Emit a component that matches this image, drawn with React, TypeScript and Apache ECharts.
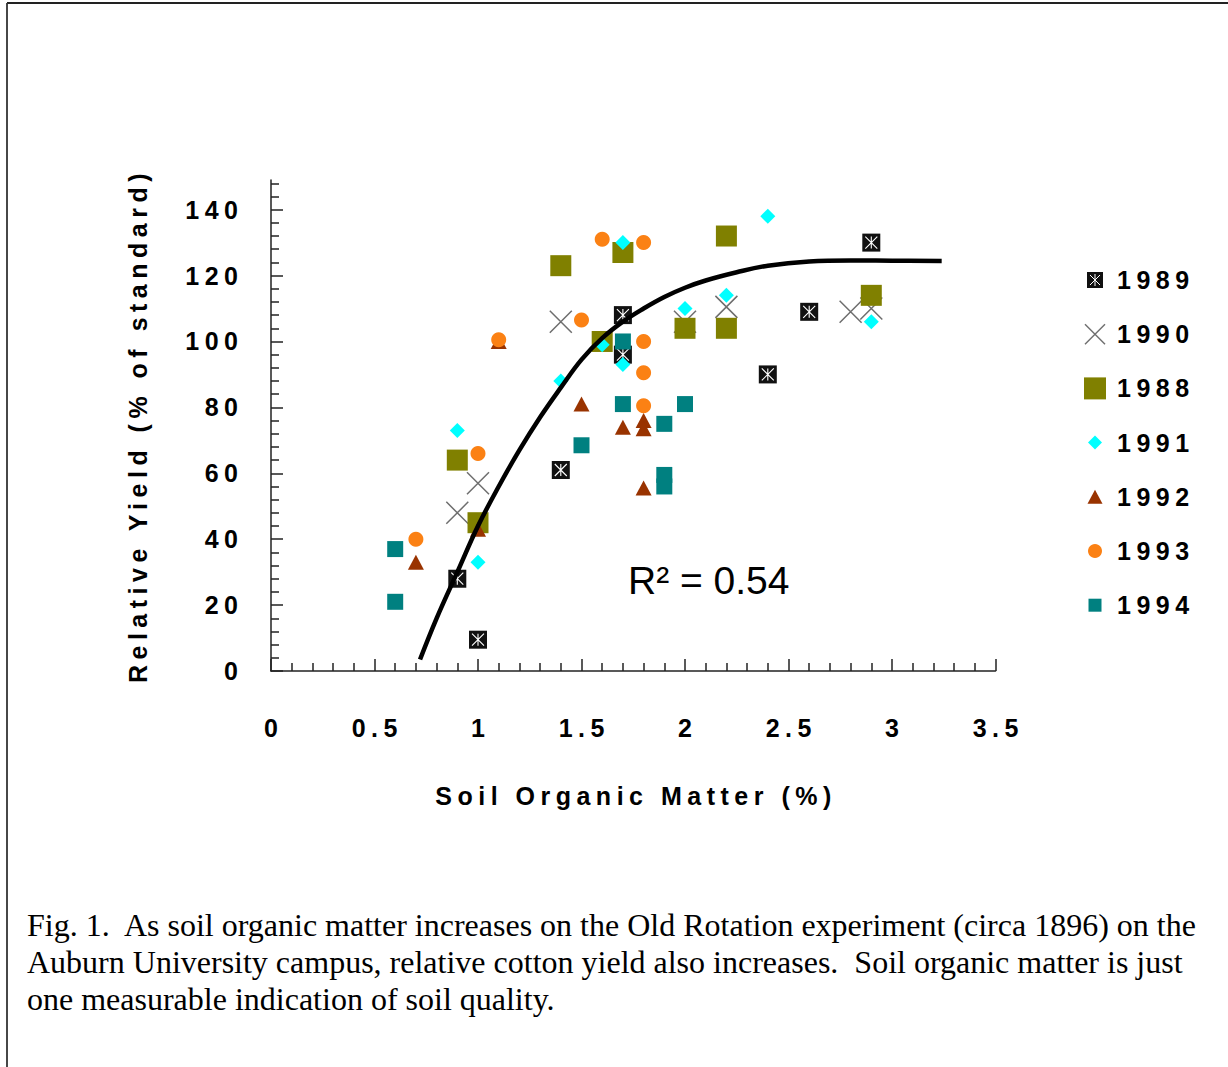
import React, { useEffect, useRef } from 'react';
import * as echarts from 'echarts';

// ---------- data ----------
const xMajorTicks = [0, 0.5, 1, 1.5, 2, 2.5, 3, 3.5];
const yMajorTicks = [0, 20, 40, 60, 80, 100, 120, 140];
const yMinorTicks = [4, 8, 12, 16, 24, 28, 32, 36, 44, 48, 52, 56, 64, 68, 72, 76, 84, 88, 92, 96,
  104, 108, 112, 116, 124, 128, 132, 136, 144, 148];

const legendNames = ['1989', '1990', '1988', '1991', '1992', '1993', '1994'];

const x1989 = [0.9, 1.0, 1.4, 1.7, 1.7, 2.4, 2.6, 2.9];
const y1989 = [28, 9.5, 61, 108, 96, 90, 109, 130];

const x1990 = [0.9, 1.0, 1.4, 2.0, 2.2, 2.8, 2.9];
const y1990 = [48, 57, 106, 106, 110.5, 109, 110];

const x1988 = [0.9, 1.0, 1.4, 1.6, 1.7, 2.0, 2.2, 2.2, 2.9];
const y1988 = [64, 45, 123, 100, 127, 104, 132, 104, 114];

const x1991 = [0.9, 1.0, 1.4, 1.6, 1.7, 1.7, 2.0, 2.2, 2.4, 2.9];
const y1991 = [73, 33, 88, 99, 130, 93, 110, 114, 138, 106];

const x1992 = [0.7, 1.0, 1.1, 1.5, 1.7, 1.8, 1.8, 1.8];
const y1992 = [33, 43, 100, 81, 74, 76, 73.5, 55.5];

const x1993 = [0.7, 1.0, 1.1, 1.5, 1.6, 1.8, 1.8, 1.8, 1.8];
const y1993 = [40, 66, 100.5, 106.5, 131, 130, 100, 90.5, 80.5];

const x1994 = [0.6, 0.6, 1.5, 1.7, 1.7, 1.9, 1.9, 1.9, 2.0];
const y1994 = [37, 21, 68.5, 81, 100, 75, 59.5, 56, 81];

// trend curve
const curveX = [0.72, 0.8, 0.9, 1.0, 1.1, 1.2, 1.3, 1.4, 1.5, 1.6, 1.7, 1.8, 1.9, 2.0, 2.1, 2.25, 2.4, 2.6, 2.8, 3.0, 3.24];
const curveY = [3.5, 16, 30, 44, 56, 67, 77, 86, 94.5, 101, 106, 110, 113.5, 116.3, 118.5, 121, 123, 124.3, 124.6, 124.5, 124.4];

const r2Label = 'R² = 0.54';
const xTitle = 'Soil Organic Matter (%)';
const yTitle = 'Relative Yield (% of standard)';
const captionLines = [
  'Fig. 1.  As soil organic matter increases on the Old Rotation experiment (circa 1896) on the',
  'Auburn University campus, relative cotton yield also increases.  Soil organic matter is just',
  'one measurable indication of soil quality.',
];

// ---------- styles ----------
const SANS = 'Liberation Sans, Arial, sans-serif';
const BOLD = { fontFamily: SANS, fontWeight: 'bold' as const, fontSize: 25, color: '#000' };
const LETTER_SPACING = '5.5';
const C1989 = '#111111';
const C1990 = '#6e6e6e';
const C1988 = '#808000';
const C1991 = '#00ffff';
const C1992 = '#993300';
const C1993 = '#fb8114';
const C1994 = '#008080';
const XPATH = 'path://M0 0L10 10M10 0L0 10';
const STARPATH = 'path://M0 0L10 10M10 0L0 10M5 0L5 10';

const pts = (xs: number[], ys: number[]) => xs.map((x, i) => [x, ys[i]]);

function legendIcon(name: string, cx: number, cy: number): any {
  switch (name) {
    case '1989':
      return {
        type: 'group', children: [
          { type: 'rect', shape: { x: cx - 8, y: cy - 8, width: 16, height: 16 }, style: { fill: C1989 } },
          { type: 'line', shape: { x1: cx - 5, y1: cy - 5, x2: cx + 5, y2: cy + 5 }, style: { stroke: '#fff', lineWidth: 1 } },
          { type: 'line', shape: { x1: cx + 5, y1: cy - 5, x2: cx - 5, y2: cy + 5 }, style: { stroke: '#fff', lineWidth: 1 } },
          { type: 'line', shape: { x1: cx, y1: cy - 6, x2: cx, y2: cy + 6 }, style: { stroke: '#fff', lineWidth: 1 } },
        ],
      };
    case '1990':
      return {
        type: 'group', children: [
          { type: 'line', shape: { x1: cx - 10, y1: cy - 10, x2: cx + 10, y2: cy + 10 }, style: { stroke: C1990, lineWidth: 1.5 } },
          { type: 'line', shape: { x1: cx + 10, y1: cy - 10, x2: cx - 10, y2: cy + 10 }, style: { stroke: C1990, lineWidth: 1.5 } },
        ],
      };
    case '1988':
      return { type: 'rect', shape: { x: cx - 11, y: cy - 11, width: 22, height: 22 }, style: { fill: C1988 } };
    case '1991':
      return { type: 'polygon', shape: { points: [[cx, cy - 7], [cx + 7, cy], [cx, cy + 7], [cx - 7, cy]] }, style: { fill: C1991 } };
    case '1992':
      return { type: 'polygon', shape: { points: [[cx, cy - 7], [cx + 7.5, cy + 7], [cx - 7.5, cy + 7]] }, style: { fill: C1992 } };
    case '1993':
      return { type: 'circle', shape: { cx, cy, r: 7 }, style: { fill: C1993 } };
    default:
      return { type: 'rect', shape: { x: cx - 6.5, y: cy - 6.5, width: 13, height: 13 }, style: { fill: C1994 } };
  }
}

function buildOption(): any {
  const legendGraphics: any[] = [];
  legendNames.forEach((n, i) => {
    const cy = 280 + i * 54.2;
    legendGraphics.push(legendIcon(n, 1095, cy));
    legendGraphics.push({
      type: 'text', x: 1117, y: cy,
      style: {
        text: n, fill: '#000', fontFamily: SANS, fontWeight: 'bold', fontSize: 25,
        align: 'left', verticalAlign: 'middle', textAlign: 'left', textVerticalAlign: 'middle',
      },
    });
  });

  const captionGraphics = captionLines.map((t, i) => ({
    type: 'text', x: 27, y: 925 + i * 37,
    style: {
      text: t, fill: '#000', fontFamily: 'Liberation Serif, Times New Roman, serif', fontSize: 32,
      align: 'left', verticalAlign: 'middle', textAlign: 'left', textVerticalAlign: 'middle',
    },
  }));

  const tickStyle = { color: '#222', width: 1.5 };

  return {
    animation: false,
    backgroundColor: '#fff',
    grid: { left: 271, right: 232.5, top: 180, bottom: 396, containLabel: false, outerBoundsMode: 'none' },
    xAxis: [
      {
        type: 'value', min: 0, max: 3.5, interval: 0.5, position: 'bottom',
        axisLine: { show: true, lineStyle: { color: '#222', width: 1.5 } },
        axisTick: { show: true, inside: true, length: 12, lineStyle: tickStyle },
        minorTick: { show: true, splitNumber: 5, length: 8, lineStyle: tickStyle },
        axisLabel: { ...BOLD, margin: 44, padding: [0, 0, 0, 5.5], customValues: xMajorTicks },
        splitLine: { show: false },
        name: xTitle, nameLocation: 'middle', nameGap: 112,
        nameTextStyle: { ...BOLD, padding: [0, 0, 0, 5.5] },
      },
    ],
    yAxis: [
      {
        type: 'value', min: 0, max: 149, position: 'left',
        axisLine: { show: true, lineStyle: { color: '#222', width: 1.5 } },
        axisTick: { show: true, inside: true, length: 12, lineStyle: tickStyle, customValues: yMajorTicks },
        axisLabel: { ...BOLD, margin: 27.5, customValues: yMajorTicks },
        splitLine: { show: false },
        name: yTitle, nameLocation: 'middle', nameGap: 121, nameRotate: 90,
        nameTextStyle: { ...BOLD },
      },
      {
        type: 'value', min: 0, max: 149, position: 'left', offset: 0,
        axisLine: { show: false },
        axisTick: { show: true, inside: true, length: 8, lineStyle: tickStyle, customValues: yMinorTicks },
        axisLabel: { show: false },
        splitLine: { show: false },
      },
    ],
    series: [
      { name: '1989', type: 'scatter', data: pts(x1989, y1989), symbol: 'rect', symbolSize: 18, itemStyle: { color: C1989, opacity: 1 } },
      {
        name: '1989 mark', type: 'scatter', data: pts(x1989, y1989), symbol: STARPATH, symbolSize: 12, silent: true,
        itemStyle: { color: 'rgba(0,0,0,0)', borderColor: '#fff', borderWidth: 1.1, opacity: 1 },
      },
      {
        name: '1990', type: 'scatter', data: pts(x1990, y1990), symbol: XPATH, symbolSize: 22,
        itemStyle: { color: 'rgba(0,0,0,0)', borderColor: C1990, borderWidth: 1.5, opacity: 1 },
      },
      { name: '1988', type: 'scatter', data: pts(x1988, y1988), symbol: 'rect', symbolSize: 21, itemStyle: { color: C1988, opacity: 1 } },
      { name: '1991', type: 'scatter', data: pts(x1991, y1991), symbol: 'diamond', symbolSize: 15, itemStyle: { color: C1991, opacity: 1 } },
      { name: '1992', type: 'scatter', data: pts(x1992, y1992), symbol: 'triangle', symbolSize: [16, 15], itemStyle: { color: C1992, opacity: 1 } },
      { name: '1993', type: 'scatter', data: pts(x1993, y1993), symbol: 'circle', symbolSize: 15, itemStyle: { color: C1993, opacity: 1 } },
      { name: '1994', type: 'scatter', data: pts(x1994, y1994), symbol: 'rect', symbolSize: 16, itemStyle: { color: C1994, opacity: 1 } },
      {
        name: 'trend', type: 'line', data: pts(curveX, curveY), showSymbol: false, symbol: 'none', smooth: 0.4,
        lineStyle: { color: '#000', width: 4.5 }, z: 5,
      },
    ],
    graphic: [
      { type: 'line', shape: { x1: 7, y1: 3, x2: 1228, y2: 3 }, style: { stroke: '#222', lineWidth: 1.8 } },
      { type: 'line', shape: { x1: 7, y1: 3, x2: 7, y2: 1067 }, style: { stroke: '#333', lineWidth: 1.8 } },
      {
        type: 'text', x: 628, y: 580,
        style: {
          text: r2Label, fill: '#000', fontFamily: SANS, fontSize: 39,
          align: 'left', verticalAlign: 'middle', textAlign: 'left', textVerticalAlign: 'middle',
        },
      },
      ...legendGraphics,
      ...captionGraphics,
    ],
  };
}

export default function App() {
  const ref = useRef<HTMLDivElement>(null);
  useEffect(() => {
    const el = ref.current;
    if (!el) return;
    const chart = echarts.init(el, null, { renderer: 'svg' });
    // the original figure uses widely letter-spaced bold labels
    const applySpacing = () => {
      el.querySelectorAll('svg text').forEach((t) => {
        const fw = window.getComputedStyle(t as Element).fontWeight;
        if (fw === 'bold' || Number(fw) >= 600) (t as Element).setAttribute('letter-spacing', LETTER_SPACING);
      });
    };
    chart.on('finished', applySpacing);
    chart.setOption(buildOption());
    applySpacing();
    const timer = window.setTimeout(applySpacing, 30);
    return () => {
      window.clearTimeout(timer);
      chart.dispose();
    };
  }, []);
  return (
    <div
      ref={ref}
      style={{ position: 'fixed', left: 0, top: 0, width: 1228, height: 1067, background: '#fff' }}
    />
  );
}
